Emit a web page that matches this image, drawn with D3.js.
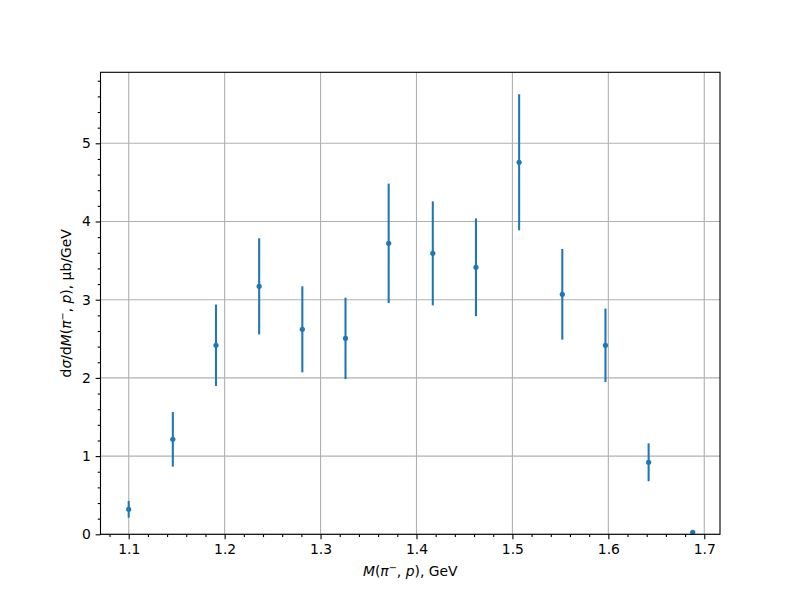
<!DOCTYPE html>
<html><head><meta charset="utf-8">
<script src="https://cdn.jsdelivr.net/npm/d3@7"></script>
<style>
body{margin:0;background:#fff;}
svg{font-family:"DejaVu Sans",sans-serif;}
</style></head>
<body><svg id="c" width="800" height="600"></svg>
<script>
const xVals = [1.100, 1.146, 1.191, 1.236, 1.281, 1.326, 1.371, 1.417, 1.462, 1.507, 1.552, 1.597, 1.642, 1.688];
const yVals = [0.32, 1.215, 2.417, 3.171, 2.621, 2.506, 3.721, 3.593, 3.414, 4.757, 3.069, 2.417, 0.921, 0.026];
const yErr  = [0.107, 0.35, 0.52, 0.615, 0.55, 0.52, 0.764, 0.665, 0.625, 0.87, 0.58, 0.47, 0.242, 0.02];
const xTicks = [1.1, 1.2, 1.3, 1.4, 1.5, 1.6, 1.7];
const yTicks = [0, 1, 2, 3, 4, 5];

const svg = d3.select("#c");
const L = 100.5, R = 720, T = 72.3, B = 534.3;
const x = d3.scaleLinear().domain([1.0706, 1.7164]).range([L, R]);
const y = d3.scaleLinear().domain([0, 5.908]).range([B, T]);
const C = "#1f77b4";
const fs = 13.9;

// grid
const g = svg.append("g");
g.selectAll(".gx").data(xTicks).join("line")
  .attr("x1", d => x(d)).attr("x2", d => x(d)).attr("y1", T).attr("y2", B)
  .attr("stroke", "#b0b0b0").attr("stroke-width", 1.1);
g.selectAll(".gy").data(yTicks).join("line")
  .attr("y1", d => y(d)).attr("y2", d => y(d)).attr("x1", L).attr("x2", R)
  .attr("stroke", "#b0b0b0").attr("stroke-width", 1.1);

// error bars
svg.append("g").selectAll("line").data(xVals).join("line")
  .attr("x1", (d) => x(d)).attr("x2", d => x(d))
  .attr("y1", (d, i) => y(Math.max(0, yVals[i] - yErr[i])))
  .attr("y2", (d, i) => y(yVals[i] + yErr[i]))
  .attr("stroke", C).attr("stroke-width", 2.08);
svg.append("g").selectAll("circle").data(xVals).join("circle")
  .attr("cx", d => x(d)).attr("cy", (d, i) => y(yVals[i]))
  .attr("r", 2.6).attr("fill", C);

// axes
const minorX = d3.range(1.08, 1.7165, 0.02).filter(v => Math.abs(v*10 - Math.round(v*10)) > 1e-6);
const minorY = d3.range(0, 5.91, 0.2).filter(v => Math.abs(v - Math.round(v)) > 1e-6);

const xAxis = svg.append("g").attr("transform", `translate(0,${B})`)
  .call(d3.axisBottom(x).tickValues(xTicks).tickFormat(d3.format(".1f")).tickSize(4.86).tickPadding(4.86));
svg.append("g").attr("transform", `translate(0,${B})`)
  .call(d3.axisBottom(x).tickValues(minorX).tickFormat("").tickSize(2.78));
const yAxis = svg.append("g").attr("transform", `translate(${L},0)`)
  .call(d3.axisLeft(y).tickValues(yTicks).tickFormat(d3.format("d")).tickSize(4.86).tickPadding(4.86));
svg.append("g").attr("transform", `translate(${L},0)`)
  .call(d3.axisLeft(y).tickValues(minorY).tickFormat("").tickSize(2.78));
svg.selectAll(".domain").remove();
svg.selectAll(".tick line").attr("stroke", "#000").attr("stroke-width", 1.1);
svg.selectAll(".tick text").attr("font-size", fs).attr("font-family", "DejaVu Sans").attr("fill", "#000");

// frame
svg.append("rect").attr("x", L).attr("y", T).attr("width", R - L).attr("height", B - T)
  .attr("fill", "none").attr("stroke", "#000").attr("stroke-width", 1.1);

// x label
const xl = svg.append("text").attr("x", (L + R) / 2).attr("y", 576)
  .attr("text-anchor", "middle").attr("font-size", fs);
xl.append("tspan").attr("font-style", "italic").text("M");
xl.append("tspan").text("(");
xl.append("tspan").attr("font-style", "italic").text("π");
xl.append("tspan").attr("font-size", fs * 0.7).attr("dy", -5).text("−");
xl.append("tspan").attr("dy", 5).text(", ");
xl.append("tspan").attr("font-style", "italic").text("p");
xl.append("tspan").text("), GeV");

// y label
const yl = svg.append("text").attr("transform", `translate(71,${(T + B) / 2}) rotate(-90)`)
  .attr("text-anchor", "middle").attr("font-size", fs);
yl.append("tspan").text("d");
yl.append("tspan").attr("font-style", "italic").text("σ");
yl.append("tspan").text("/d");
yl.append("tspan").attr("font-style", "italic").text("M");
yl.append("tspan").text("(");
yl.append("tspan").attr("font-style", "italic").text("π");
yl.append("tspan").attr("font-size", fs * 0.7).attr("dy", -5).text("−");
yl.append("tspan").attr("dy", 5).text(", ");
yl.append("tspan").attr("font-style", "italic").text("p");
yl.append("tspan").text("), μb/GeV");
</script></body></html>
